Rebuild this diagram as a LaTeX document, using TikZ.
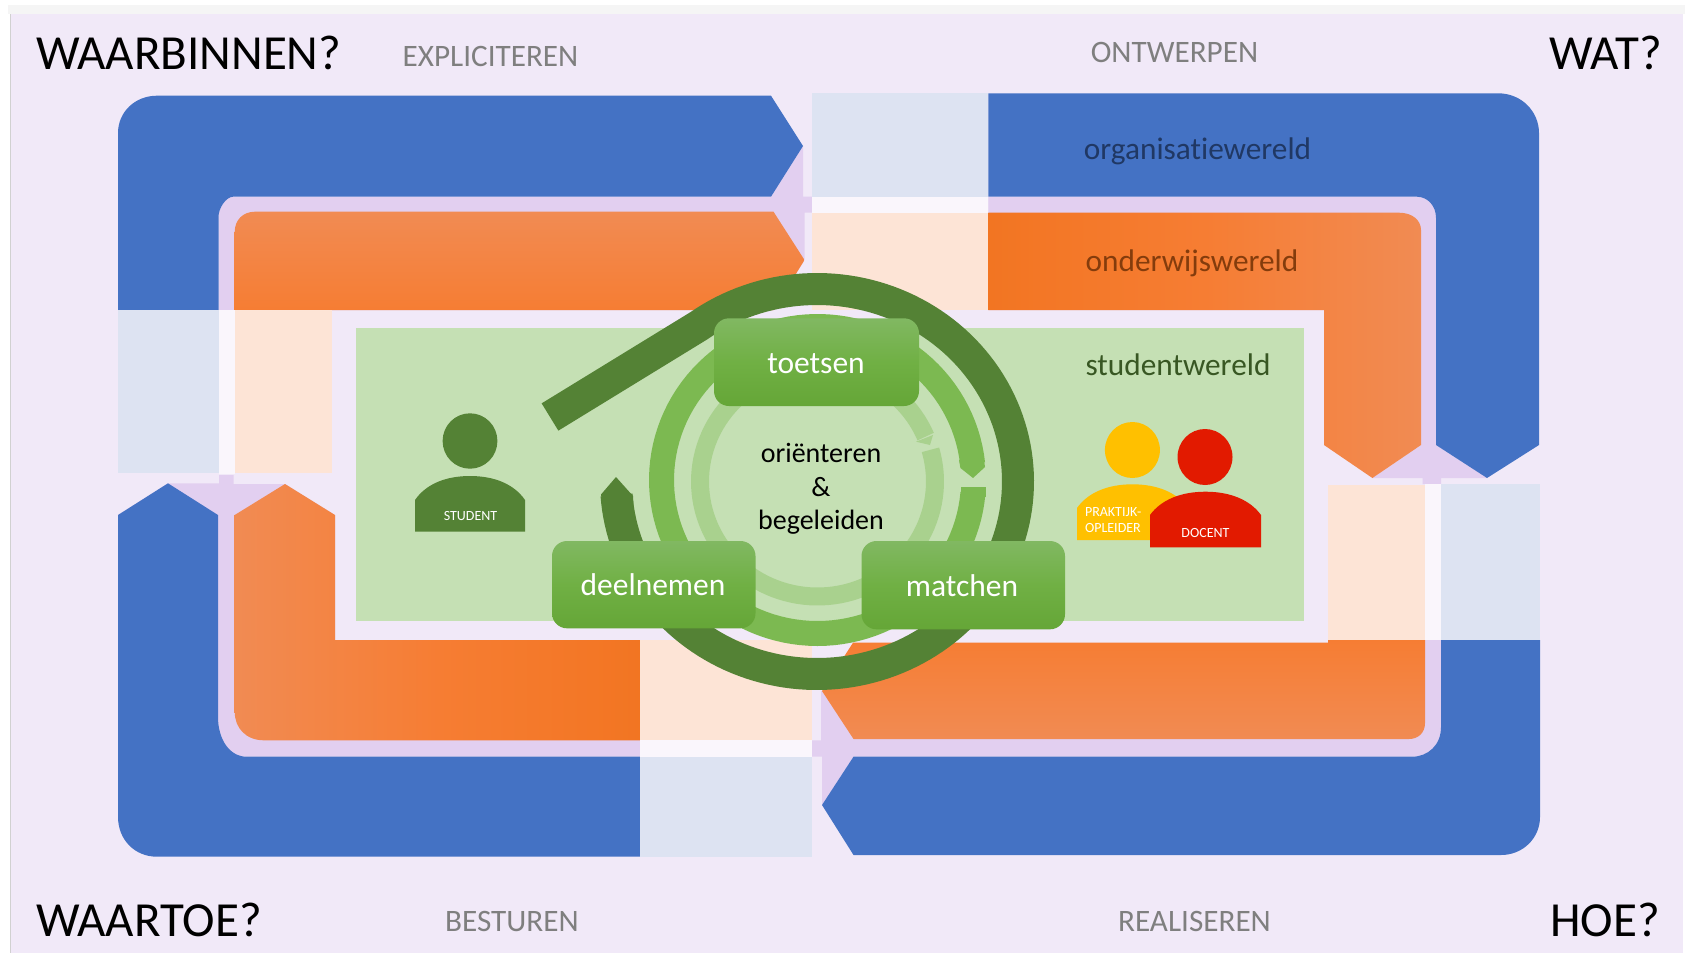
\documentclass[tikz,border=0pt]{standalone}
\usepackage{fontspec}
\setmainfont[Ligatures=NoCommon]{Carlito}
\definecolor{pagebg}{HTML}{F1E9F8}
\definecolor{lav}{HTML}{E2CFF0}
\definecolor{ltblue}{HTML}{DDE3F2}
\definecolor{peach}{HTML}{FDE4D6}
\definecolor{whitish}{HTML}{FAF6FC}
\definecolor{blueB}{HTML}{4472C4}
\definecolor{orA}{HTML}{F18B53}
\definecolor{orB}{HTML}{F67D33}
\definecolor{orC}{HTML}{F27522}
\definecolor{panel}{HTML}{C5E0B4}
\definecolor{dgreen}{HTML}{548235}
\definecolor{mgreen}{HTML}{7CB951}
\definecolor{lgreen}{HTML}{A9D18E}
\definecolor{boxA}{HTML}{81B862}
\definecolor{boxB}{HTML}{70B044}
\definecolor{boxC}{HTML}{65A637}
\definecolor{greytxt}{HTML}{7F7F7F}
\definecolor{tblue}{HTML}{203864}
\definecolor{torange}{HTML}{843C0C}
\definecolor{tgreen}{HTML}{385723}
\definecolor{yellowP}{HTML}{FFC000}
\definecolor{redP}{HTML}{E21A00}
\tikzset{
  x=1pt,y=-1pt,
  every node/.style={inner sep=0pt,outer sep=0pt},
  title/.style={anchor=base,font=\fontsize{49}{49}\selectfont,text=black},
  phase/.style={anchor=base,font=\fontsize{31.2}{31}\selectfont,text=greytxt},
  world/.style={anchor=base,font=\fontsize{31.3}{31}\selectfont},
  boxlabel/.style={anchor=base,font=\fontsize{31.5}{31}\selectfont,text=white},
  centre/.style={anchor=base,font=\fontsize{28}{28}\selectfont,text=black},
  small/.style={anchor=base,font=\fontsize{14}{14}\selectfont,text=white},
  stepbox/.style={rounded corners=15pt,draw=none,top color=boxA,bottom color=boxC,middle color=boxB},
  ringline/.style={line width=#1,line join=round,line cap=butt},
}
\newcommand{\personbody}[6]{% l r top shoulder bottom colour
  \fill[#6] (#1,#5) -- (#1,#4)
    .. controls ({#1+0.10*(#2-#1)},{#3+8}) and ({#1+0.28*(#2-#1)},#3) .. ({(#1+#2)/2},#3)
    .. controls ({#2-0.28*(#2-#1)},#3) and ({#2-0.10*(#2-#1)},{#3+8}) .. (#2,#4)
    -- (#2,#5) -- cycle;}
\begin{document}
\begin{tikzpicture}
\path[use as bounding box] (0,0) rectangle (1685,953);
\fill[white] (0,0) rectangle (1685,953);
\fill[black!4] (8,5) rectangle (1685,14);
\fill[pagebg] (11,14) rectangle (1683,953);
\fill[black!18] (10,14) rectangle (11,953);

% lavender bands and notches
\fill[lav] (218.5,310) -- (218.5,217) .. controls (218.5,208) and (226,197) .. (233,196.7)
  -- (771,196.7) -- (803,146) -- (803,196.7) -- (812,196.7) -- (812,212.7) -- (804.5,212.7) -- (804.5,260) -- (773.5,310) -- cycle;
\fill[lav] (988.3,196.7) -- (1417,196.7) .. controls (1428,197) and (1436,206) .. (1436,218) -- (1436,445)
  -- (1487,478) -- (1441,478) -- (1441,484) -- (1422.5,484) -- (1422.5,478) -- (1372.4,478) -- (1421,445) -- (1421,310) -- (988.3,310) -- cycle;
\fill[lav] (118,515) -- (168,483.3) -- (219,483.3) -- (219,475) -- (233.6,475) -- (233.6,484) -- (285,484) -- (335,515) -- (335,740) -- (640,740) -- (640,756.7) -- (246.6,756.7) .. controls (230,756.7) and (218,740) .. (218,716.7) -- (218,515) -- cycle;
\fill[lav] (1441,640) -- (1441,727) .. controls (1441,745) and (1428,756.7) .. (1412,756.7) -- (853.5,756.7) -- (822,805) -- (822,756.7) -- (812,756.7) -- (812,740.3) -- (821,740.3) -- (821,691) -- (900,691) -- (1425,640) -- cycle;

% blue
\fill[blueB] (118,310) -- (118,133) .. controls (118,112) and (135,95.7) .. (157,95.7)
  -- (771,95.7) -- (803,146) -- (771,196.7) -- (233,196.7) .. controls (226,197) and (218.5,208) .. (218.5,217) -- (218.5,310) -- cycle;
\fill[blueB] (988.3,93.3) -- (1498,93.3) .. controls (1522,93.3) and (1539,112) .. (1539,133)
  -- (1539,445) -- (1487,478) -- (1436,445) -- (1436,218) .. controls (1436,206) and (1428,197) .. (1417,196.7) -- (988.3,196.7) -- cycle;
\fill[blueB] (1441,640) -- (1540,640) -- (1540,817) .. controls (1540,838) and (1523,855) .. (1501,855)
  -- (853.5,855) -- (822,805) -- (853.5,756.7) -- (1412,756.7) .. controls (1428,756.7) and (1441,745) .. (1441,727) -- cycle;
\fill[blueB] (118,515) -- (168,483.3) -- (218,515) -- (218,716.7) .. controls (218,740) and (230,756.7) .. (246.6,756.7)
  -- (640,756.7) -- (640,856.7) -- (157,856.7) .. controls (135,856.7) and (118,840) .. (118,816.7) -- cycle;

% orange
\shade[top color=orA,bottom color=orB] (234.7,310) -- (234.7,232) .. controls (234.7,220) and (243,211.7) .. (255,211.7)
  -- (773.5,211.7) -- (804.5,260) -- (773.5,310) -- cycle;
\shade[left color=orC,right color=orA,middle color=orB] (988.3,212.7) -- (1399,212.7) .. controls (1412,212.7) and (1421,220) .. (1421,230)
  -- (1421,445) -- (1372.4,478) -- (1324,445) -- (1324,310) -- (988.3,310) -- cycle;
\shade[top color=orB,bottom color=orA] (853,642.7) -- (1328,642.7) -- (1328,640) -- (1425,640) -- (1425,723) .. controls (1425,733) and (1418,739) .. (1409,739)
  -- (853.5,739) -- (822,691) -- cycle;
\shade[left color=orA,right color=orC,middle color=orB] (234.7,515) -- (285,484) -- (335,515) -- (335,640) -- (640,640) -- (640,740.3)
  -- (264,740.3) .. controls (246,740.3) and (234.7,728) .. (234.7,711.7) -- cycle;

% pale squares
\fill[ltblue] (812,93.3) rectangle (988.3,196.7);
\fill[whitish] (812,196.7) rectangle (988.3,212.7);
\fill[peach] (812,212.7) rectangle (988.3,310);
\fill[ltblue] (118,310) rectangle (218.5,472.7);
\fill[whitish] (218.5,310) rectangle (234.7,474);
\fill[peach] (234.7,310) rectangle (332,473);
\fill[peach] (1328,485) rectangle (1425,640);
\fill[whitish] (1425,484) rectangle (1441,640);
\fill[ltblue] (1441,484) rectangle (1540,640);
\fill[peach] (640,640) rectangle (812,740.3);
\fill[whitish] (640,740.3) rectangle (812,756.7);
\fill[ltblue] (640,756.7) rectangle (812,856.7);

% student world panel
\fill[panel] (356,327.7) rectangle (1304,621);

% light ring
\draw[lgreen,ringline=18pt] plot[domain=-16:337,samples=120] ({817.5+117.5*cos(\x)},{481.5+115*sin(\x)});
\fill[lgreen] (933,435) -- (930,445) -- (916,441.7) -- cycle;
% medium ring
\draw[mgreen,ringline=25pt] plot[domain=5:354,samples=120] ({817.5+156*cos(\x)},{480+153.5*sin(\x)});
\fill[mgreen] (960.5,486.7) rectangle (986,497);
\fill[mgreen] (960.4,468) -- (973,478) -- (985,467) -- (984,460) -- (959,460) -- cycle;
% dark ring with straight lead-in
\draw[dgreen,ringline=32pt] (550,417) -- plot[domain=-126:176,samples=150] ({817+201*cos(\x)},{481.5+192.5*sin(\x)});
\fill[dgreen] (601,494.5) -- (616,477) -- (633,496) -- (633.5,506) -- (603,506) -- cycle;

% step boxes
\shade[stepbox] (714,318.3) rectangle (919,406);
\shade[stepbox] (552,541) rectangle (755.5,628.3);
\shade[stepbox] (861.5,541) rectangle (1065,629.3);
\node[boxlabel] (toetsen) at (816,373.7) {toetsen};
\node[boxlabel] (deelnemen) at (653,595.3) {deelnemen};
\node[boxlabel] (matchen) at (962,596.7) {matchen};

% centre text
\node[centre] (orient) at (821,462.7) {oriënteren};
\node[centre] (amp) at (821,496) {\&};
\node[centre] (begel) at (821,529.3) {begeleiden};

% people
\fill[dgreen] (470,441) ellipse [x radius=27.4,y radius=27.7];
\personbody{415}{525}{476}{500}{531.7}{dgreen}
\node[small] (student) at (470.5,520) {STUDENT};
\fill[yellowP] (1132.4,450) ellipse [x radius=27.5,y radius=28];
\personbody{1077}{1188}{484.3}{508}{540}{yellowP}
\node[small,anchor=base west] (prak1) at (1085,516) {PRAKTIJK-};
\node[small,anchor=base west] (prak2) at (1085,532.7) {OPLEIDER};
\fill[redP] (1205,457) ellipse [x radius=27.5,y radius=28];
\personbody{1150}{1261}{491.7}{515}{547.3}{redP}
\node[small] (docent) at (1205.5,537.7) {DOCENT};

% titles
\node[title,anchor=base west] (waarbinnen) at (36,69.3) {WAARBINNEN?};
\node[title,anchor=base east] (wat) at (1662,69.3) {WAT?};
\node[title,anchor=base west] (waartoe) at (36,936) {WAARTOE?};
\node[title,anchor=base east] (hoe) at (1660,936) {HOE?};
\node[phase] (expl) at (490.5,66.2) {EXPLICITEREN};
\node[phase] (ontw) at (1174.5,62.8) {ONTWERPEN};
\node[phase] (best) at (512,931.2) {BESTUREN};
\node[phase] (real) at (1194.5,931.2) {REALISEREN};
\node[world,text=tblue] (org) at (1197.5,159) {organisatiewereld};
\node[world,text=torange] (ond) at (1192,271.7) {onderwijswereld};
\node[world,text=tgreen] (stu) at (1178,375.5) {studentwereld};
\end{tikzpicture}
\end{document}
